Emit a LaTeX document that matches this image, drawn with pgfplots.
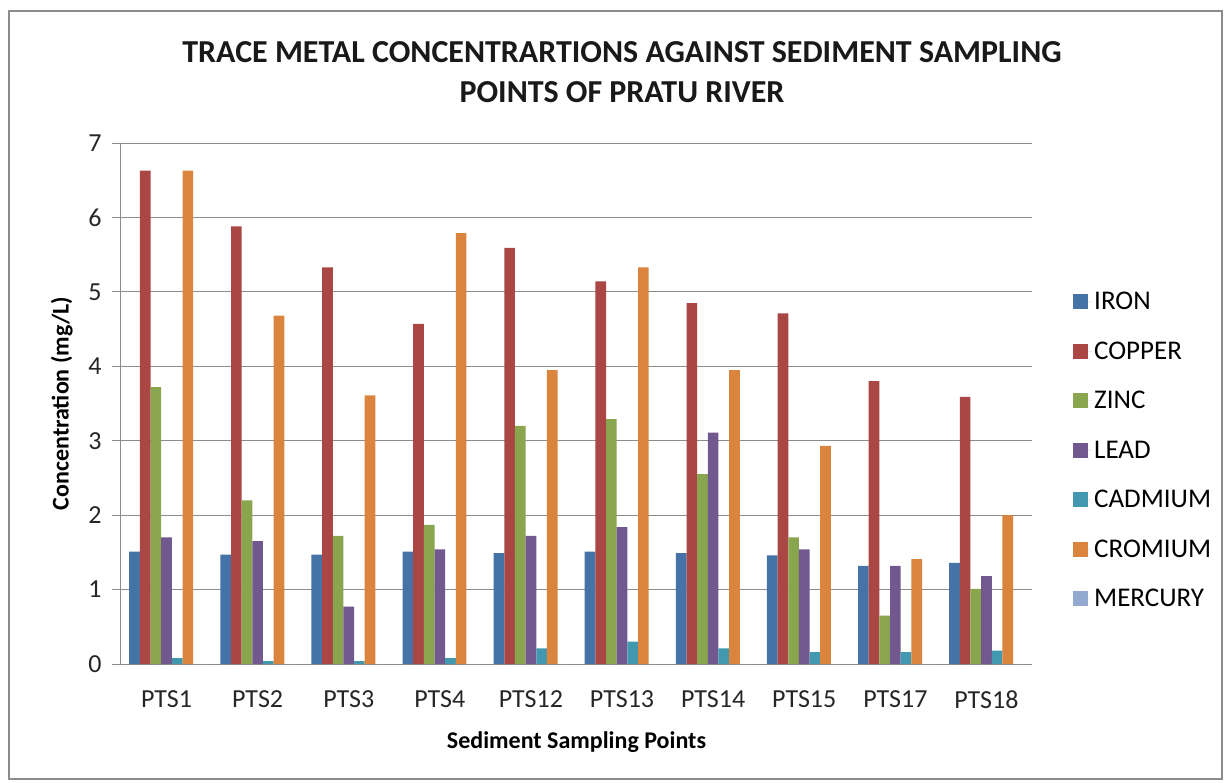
\documentclass[border=0pt]{standalone}
\usepackage{pgfplots}
\pgfplotsset{compat=1.18}
\usepackage{fontspec}
\setmainfont{Carlito}
\definecolor{cIron}{HTML}{4572A7}
\definecolor{cCopper}{HTML}{AA4643}
\definecolor{cZinc}{HTML}{89A54E}
\definecolor{cLead}{HTML}{71588F}
\definecolor{cCad}{HTML}{4198AF}
\definecolor{cCrom}{HTML}{DB843D}
\definecolor{cMerc}{HTML}{93A9CF}
\definecolor{gridc}{HTML}{8C8C8C}
\begin{document}
\begin{tikzpicture}
\useasboundingbox (-121pt,-118pt) rectangle (1105pt,664pt);
\draw[gridc, line width=1.5pt] (-112pt,-115pt) rectangle (1101pt,653pt);
\begin{axis}[
  at={(0pt,0pt)}, anchor=south west,
  scale only axis, width=911pt, height=521pt,
  ymin=0, ymax=7, ytick={0,1,...,7},
  xmin=-0.5, xmax=9.5, xtick={0,...,9},
  xticklabels={PTS1,PTS2,PTS3,PTS4,PTS12,PTS13,PTS14,PTS15,PTS17,PTS18},
  axis lines=left, axis line style={-, gridc, line width=1pt},
  ymajorgrids, grid style={gridc, line width=1pt},
  tick align=outside, major tick length=9pt,
  ytick style={gridc, line width=1pt},
  xtick style={draw=none},
  /pgf/number format/assume math mode=true,
  tick label style={font=\fontsize{26}{30}\selectfont, text=black!85},
  yticklabel style={xshift=-7pt},
  xticklabel style={yshift=-14pt},
  xlabel={Sediment Sampling Points},
  ylabel={Concentration (mg/L)},
  xlabel style={font=\bfseries\fontsize{24}{28}\selectfont, at={(axis description cs:0.5,-0.150)}, anchor=center},
  ylabel style={font=\bfseries\fontsize{24}{28}\selectfont, at={(axis description cs:-0.065,0.5)}, anchor=center, rotate=0},
  legend style={at={(axis description cs:1.045,0.41)}, anchor=west, draw=none, fill=none,
     font=\fontsize{27}{30}\selectfont, row sep=26.5pt, inner sep=0pt},
  legend cell align=left,
  legend image code/.code={\fill[#1, draw=none] (0pt,-7.5pt) rectangle (15pt,7.5pt); \path (0pt,0pt) -- (19pt,0pt);},
]
\addplot[ybar, fill=cIron, draw=none, bar width=0.117, bar shift=-0.351] coordinates {(0,1.51) (1,1.47) (2,1.47) (3,1.51) (4,1.49) (5,1.51) (6,1.49) (7,1.46) (8,1.32) (9,1.36)};
\addplot[ybar, fill=cCopper, draw=none, bar width=0.117, bar shift=-0.234] coordinates {(0,6.63) (1,5.88) (2,5.33) (3,4.57) (4,5.59) (5,5.14) (6,4.85) (7,4.71) (8,3.80) (9,3.59)};
\addplot[ybar, fill=cZinc, draw=none, bar width=0.117, bar shift=-0.117] coordinates {(0,3.72) (1,2.20) (2,1.72) (3,1.87) (4,3.20) (5,3.29) (6,2.55) (7,1.70) (8,0.65) (9,1.01)};
\addplot[ybar, fill=cLead, draw=none, bar width=0.117, bar shift=0] coordinates {(0,1.70) (1,1.65) (2,0.77) (3,1.54) (4,1.72) (5,1.84) (6,3.11) (7,1.54) (8,1.32) (9,1.18)};
\addplot[ybar, fill=cCad, draw=none, bar width=0.117, bar shift=0.117] coordinates {(0,0.08) (1,0.04) (2,0.04) (3,0.08) (4,0.21) (5,0.30) (6,0.21) (7,0.16) (8,0.16) (9,0.18)};
\addplot[ybar, fill=cCrom, draw=none, bar width=0.117, bar shift=0.234] coordinates {(0,6.63) (1,4.68) (2,3.61) (3,5.79) (4,3.95) (5,5.33) (6,3.95) (7,2.93) (8,1.41) (9,2.00)};
\addplot[ybar, fill=cMerc, draw=none, bar width=0.117, bar shift=0.351] coordinates {(0,0) (1,0) (2,0) (3,0) (4,0) (5,0) (6,0) (7,0) (8,0) (9,0)};
\legend{IRON,COPPER,ZINC,LEAD,CADMIUM,CROMIUM,MERCURY}
\end{axis}
\node[align=center, font=\bfseries\fontsize{32}{40}\selectfont, text=black!90] at (501pt,592pt) {TRACE METAL CONCENTRARTIONS AGAINST SEDIMENT SAMPLING\\POINTS OF PRATU RIVER};
\end{tikzpicture}
\end{document}
